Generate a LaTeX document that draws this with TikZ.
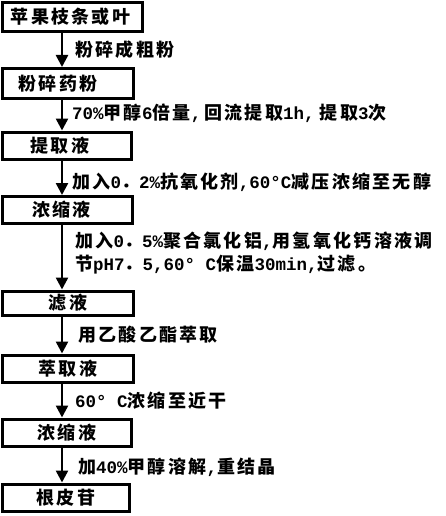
\documentclass[tikz,border=0pt]{standalone}
\usepackage{fontspec}
\setmainfont{Noto Sans CJK SC}
\newfontfamily\latfont{Liberation Mono}
\usetikzlibrary{arrows.meta}
\newcount\cjkcc
\cjkcc="4E00
\loop
  \XeTeXcharclass\cjkcc=7
  \advance\cjkcc by 1
\ifnum\cjkcc<"A000 \repeat
\XeTeXcharclass"FF0E=7
\XeTeXcharclass"3002=7
\XeTeXinterchartokenstate=1
\XeTeXinterchartoks 7 7 = {\kern2.3pt}
\newcommand{\La}[1]{{\latfont\bfseries\fontsize{17.5pt}{20pt}\selectfont #1}}
\begin{document}
\begin{tikzpicture}[x=1pt,y=-1pt,
  box/.style={draw, line width=3pt, inner sep=0pt, font=\fontsize{18pt}{20pt}\selectfont\bfseries},
  lbl/.style={anchor=west, inner sep=0pt, font=\fontsize{18pt}{20pt}\selectfont\bfseries},
  arr/.style={line width=2.5pt, -{Triangle[width=12pt,length=12pt]}}]
\useasboundingbox (0,0) rectangle (445,516);
\coordinate (ax) at (62,0);
\node[box, minimum width=140pt, minimum height=29pt] (b1) at (72.5,17) {\kern-4pt苹果枝条或叶};
\node[box, minimum width=131pt, minimum height=30pt] (b2) at (68,83.5) {\kern-20pt粉碎药粉};
\node[box, minimum width=129pt, minimum height=27pt] (b3) at (67,145.5) {\kern-14pt提取液};
\node[box, minimum width=130pt, minimum height=27pt] (b4) at (67.5,210) {\kern-12pt浓缩液};
\node[box, minimum width=131pt, minimum height=24pt] (b5) at (68,303) {滤液};
\node[box, minimum width=131pt, minimum height=27pt] (b6) at (68,368.5) {萃取液};
\node[box, minimum width=129pt, minimum height=27pt] (b7) at (67,432.5) {浓缩液};
\node[box, minimum width=127pt, minimum height=27pt] (b8) at (66,497.5) {根皮苷};
\draw[arr] (b1.south -| ax) -- (b2.north -| ax);
\draw[arr] (b2.south -| ax) -- (b3.north -| ax);
\draw[arr] (b3.south -| ax) -- (b4.north -| ax);
\draw[arr] (b4.south -| ax) -- (b5.north -| ax);
\draw[arr] (b5.south -| ax) -- (b6.north -| ax);
\draw[arr] (b6.south -| ax) -- (b7.north -| ax);
\draw[arr] (b7.south -| ax) -- (b8.north -| ax);
\node[lbl] (l1) at (75,50) {粉碎成粗粉};
\node[lbl] (l2) at (72,113) {\La{70\%}甲醇\La{6}倍量\La{,}\kern3pt回流提取\La{1h,}\kern5pt提取\La{3}次};
\node[lbl] (l3) at (72,182) {加入\La{0}．\La{2\%}抗氧化剂\La{,60°C}减压浓缩至无醇};
\node[lbl] (l4) at (75,241) {加入\La{0}．\La{5\%}聚合氯化铝\La{,}用氢氧化钙溶液调};
\node[lbl] (l5) at (75,264.5) {节\La{pH7}．\La{5,60° C}保温\La{30min,}过滤。};
\node[lbl] (l6) at (78,335) {用乙酸乙酯萃取};
\node[lbl] (l7) at (75,400.5) {\La{60° C}浓缩至近干};
\node[lbl] (l8) at (78,467.5) {加\La{40\%}甲醇溶解\La{,}重结晶};
\end{tikzpicture}
\end{document}
